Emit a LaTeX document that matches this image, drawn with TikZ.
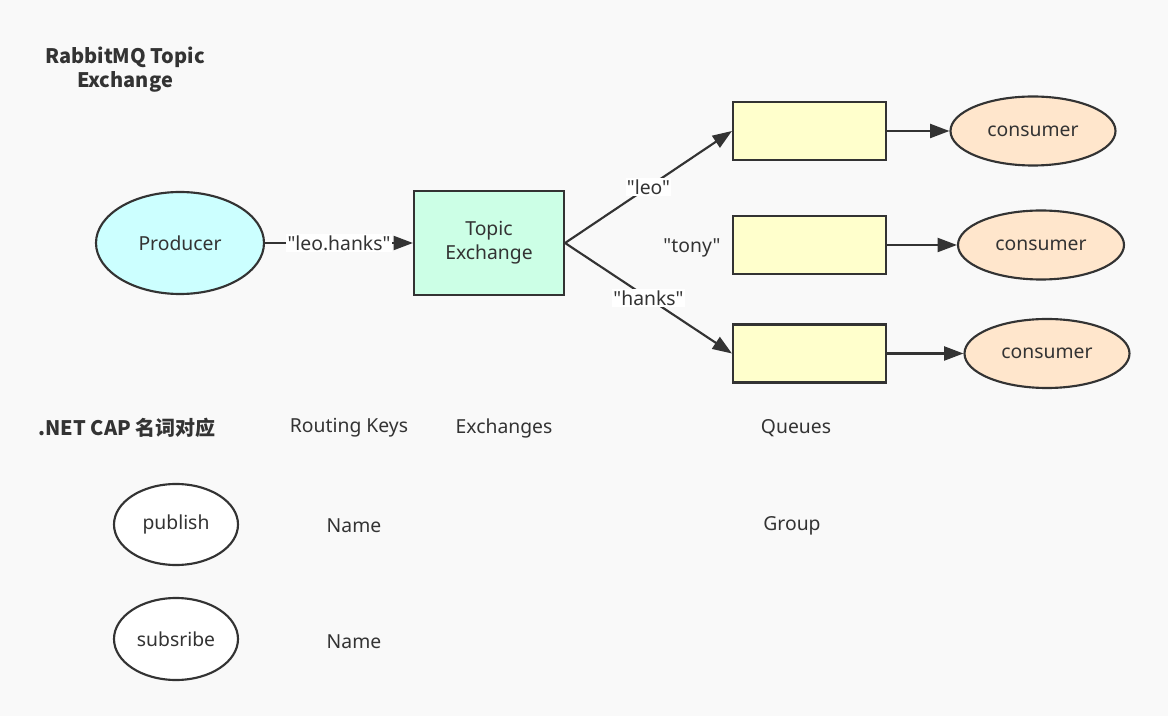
\documentclass[tikz,border=0pt]{standalone}
\usepackage{fontspec}
\setmainfont{Noto Sans}[Ligatures=TeXOff]
\newfontfamily\cjk{Noto Sans CJK SC}
\usetikzlibrary{shapes.geometric,arrows.meta}
\definecolor{bg}{RGB}{249,249,249}
\definecolor{ink}{RGB}{51,51,51}
\definecolor{prodfill}{RGB}{204,255,255}
\definecolor{exfill}{RGB}{204,255,230}
\definecolor{qfill}{RGB}{255,255,204}
\definecolor{cfill}{RGB}{255,230,204}
\tikzset{
  every node/.style={font=\fontsize{14.5pt}{18pt}\selectfont, text=ink},
  boldtext/.style={font=\cjk\bfseries\fontsize{15pt}{18pt}\selectfont},
  shapeline/.style={draw=ink, line width=1.6pt},
  ell/.style={shapeline, ellipse, inner sep=0pt},
  boxnode/.style={shapeline, rectangle, inner sep=0pt},
  conn/.style={draw=ink, line width=1.6pt, -{Triangle[length=14.5pt,width=10.5pt]}},
  lbl/.style={fill=white, inner sep=1pt},
  plain/.style={inner sep=0pt},
}
\begin{document}
\begin{tikzpicture}[x=0.75pt,y=-0.75pt]
\fill[bg] (0,0) rectangle (1168,716);
\useasboundingbox (0,0) rectangle (1168,716);

\node[plain, align=center, boldtext] (title) at (125,70) {RabbitMQ Topic\\Exchange};

\node[ell, fill=prodfill, minimum width=168*0.75pt, minimum height=102*0.75pt] (prod) at (180,243) {Producer};
\node[boxnode, fill=exfill, minimum width=150*0.75pt, minimum height=104*0.75pt, align=center] (ex) at (489,243) {Topic\\Exchange};

\node[boxnode, fill=qfill, minimum width=153*0.75pt, minimum height=58*0.75pt] (q1) at (809.5,131) {};
\node[boxnode, fill=qfill, minimum width=153*0.75pt, minimum height=58*0.75pt] (q2) at (809.5,245) {};
\node[boxnode, fill=qfill, minimum width=153*0.75pt, minimum height=58*0.75pt] (q3) at (809.5,353.5) {};

\node[ell, fill=cfill, minimum width=165*0.75pt, minimum height=69*0.75pt] (c1) at (1033,131) {consumer};
\node[ell, fill=cfill, minimum width=166*0.75pt, minimum height=69*0.75pt] (c2) at (1041,245) {consumer};
\node[ell, fill=cfill, minimum width=165*0.75pt, minimum height=69*0.75pt] (c3) at (1047,353.5) {consumer};

\draw[conn] (prod.east) -- node[lbl] {"leo.hanks"} (ex.west |- prod.east);
\draw[conn] (ex.east) -- node[lbl, pos=0.5] {"leo"} (q1.west);
\draw[conn] (ex.east) -- node[lbl, pos=0.5] {"hanks"} (q3.west);
\draw[conn] (q1.east) -- (c1.west);
\draw[conn] (q2.east) -- (c2.west);
\draw[conn] (q3.east) -- (c3.west);

\node[plain] (tony) at (692,248) {"tony"};

\node[plain, boldtext] (cap) at (127,428) {.NET CAP 名词对应};
\node[plain] (rk) at (349,428) {Routing Keys};
\node[plain] (exs) at (504,428) {Exchanges};
\node[plain] (qs) at (796,428) {Queues};

\node[ell, fill=white, minimum width=124*0.75pt, minimum height=81*0.75pt] (pub) at (176,524.5) {publish};
\node[ell, fill=white, minimum width=124*0.75pt, minimum height=82*0.75pt] (sub) at (176,639) {subsribe};

\node[plain] (n1) at (354,526) {Name};
\node[plain] (grp) at (792,526) {Group};
\node[plain] (n2) at (354,642) {Name};
\end{tikzpicture}
\end{document}
